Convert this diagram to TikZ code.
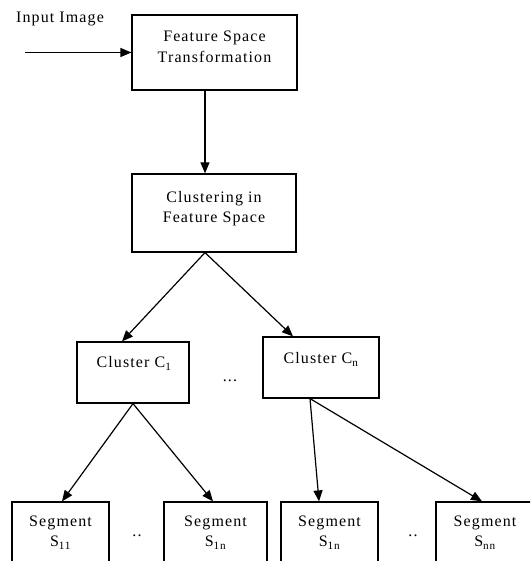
\documentclass[tikz,border=0pt]{standalone}
\usepackage{fontspec}
\setmainfont{Liberation Serif}[LetterSpace=7]
\usetikzlibrary{arrows.meta,calc}
\begin{document}
\begin{tikzpicture}[x=1pt,y=-1pt,
  box/.style={draw, line width=1.2pt, inner sep=0pt},
  lbl/.style={inner sep=0pt, anchor=base, font=\fontsize{16}{19}\selectfont},
  conn/.style={line width=1.2pt, -{Triangle[length=11pt,width=9pt]}}]
\useasboundingbox (0,0) rectangle (530,561);
\clip (0,0) rectangle (530,561);
% boxes
\node[box, minimum width=165, minimum height=75] (fst) at (214.5,52.5) {};
\node[box, minimum width=164, minimum height=78] (cfs) at (214,213) {};
\node[box, minimum width=112, minimum height=61] (c1) at (133,372.5) {};
\node[box, minimum width=116, minimum height=61] (cn) at (321,367.5) {};
\node[box, minimum width=97, minimum height=118] (s11) at (60.5,561) {};
\node[box, minimum width=103, minimum height=118] (s1na) at (215.5,561) {};
\node[box, minimum width=97, minimum height=118] (s1nb) at (329.5,561) {};
\node[box, minimum width=98, minimum height=118] (snn) at (485,561) {};
% texts
\node[lbl] (tin) at (60,23) {Input Image};
\node[lbl] (t1a) at (214.5,41.5) {Feature Space};
\node[lbl] (t1b) at (214.5,62.5) {Transformation};
\node[lbl] (t2a) at (214,202.5) {Clustering in};
\node[lbl] (t2b) at (214,222.5) {Feature Space};
\node[lbl] (tc1) at (134,367.5) {Cluster C\textsubscript{1}};
\node[lbl] (tcn) at (321,363.5) {Cluster C\textsubscript{n}};
\node[lbl] (dots1) at (230,381) {...};
\node[lbl] (ts11a) at (60.5,526.5) {Segment};
\node[lbl] (ts11b) at (60.5,546.5) {S\textsubscript{11}};
\node[lbl] (ts1naa) at (215.5,526.5) {Segment};
\node[lbl] (ts1nab) at (215.5,546.5) {S\textsubscript{1n}};
\node[lbl] (ts1nba) at (329.5,526.5) {Segment};
\node[lbl] (ts1nbb) at (329.5,546.5) {S\textsubscript{1n}};
\node[lbl] (tsnna) at (485,526.5) {Segment};
\node[lbl] (tsnnb) at (485,546.5) {S\textsubscript{nn}};
\node[lbl] (dots2) at (137,536) {..};
\node[lbl] (dots3) at (413,536) {..};
% connectors
\coordinate (inp) at (25,52.5);
\draw[conn] (inp) -- (fst.west);
\draw[conn] ([xshift=-9.5pt]fst.south) -- ([xshift=-9pt]cfs.north);
\draw[conn] ([xshift=-9pt]cfs.south) -- ([xshift=-11pt]c1.north);
\draw[conn] ([xshift=-9pt]cfs.south) -- ([xshift=-28pt]cn.north);
\draw[conn] (c1.south) -- ([xshift=1.5pt]s11.north);
\draw[conn] (c1.south) -- ([xshift=-2.5pt]s1na.north);
\draw[conn] ([xshift=-11pt]cn.south) -- ([xshift=-10.5pt]s1nb.north);
\draw[conn] ([xshift=-11pt]cn.south) -- ([xshift=-3pt]snn.north);
\end{tikzpicture}
\end{document}
